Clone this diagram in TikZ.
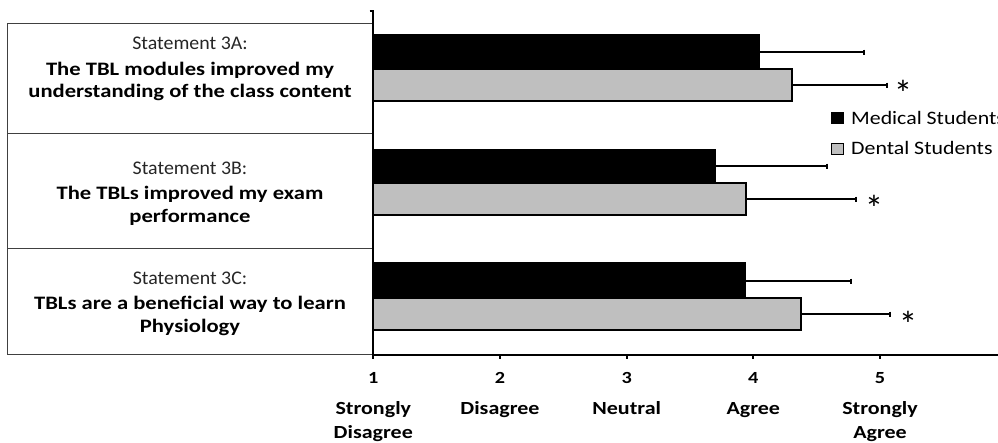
\documentclass[tikz,border=0pt]{standalone}
\usepackage{fontspec}
\setmainfont{Carlito}
\newfontfamily\stmtfont[FakeStretch=1.03]{Carlito}
\newfontfamily\widefont[FakeStretch=1.19]{Carlito}
\newfontfamily\legfont[FakeStretch=1.15]{Carlito}
\begin{document}
\begin{tikzpicture}[x=1pt,y=-1pt,
  boxline/.style={draw=black!75,line width=1pt},
  axisline/.style={draw=black,line width=1.8pt},
  medbar/.style={draw=black,line width=1.3pt,fill=black},
  dentbar/.style={draw=black,line width=1.3pt,fill=black!25},
  errbar/.style={draw=black,line width=1.1pt},
  stmt/.style={anchor=base,inner sep=0pt,font=\stmtfont\fontsize{19.3}{22}\selectfont,text=black!85},
  stmtb/.style={anchor=base,inner sep=0pt,font=\widefont\fontsize{19}{22}\selectfont\bfseries},
  ticklab/.style={anchor=base,inner sep=0pt,font=\widefont\fontsize{17}{18}\selectfont\bfseries},
  scalelab/.style={anchor=base,inner sep=0pt,font=\widefont\fontsize{18.5}{22}\selectfont\bfseries},
  legtext/.style={anchor=base west,inner sep=0pt,font=\legfont\fontsize{19}{20}\selectfont},
  star/.style={anchor=base,inner sep=0pt,font=\fontsize{37}{37}\selectfont}]
\useasboundingbox (0,0) rectangle (998,442);
% left statement box
\draw[boxline] (7.5,23.3) -- (373,23.3);
\draw[boxline] (7.5,23.3) -- (7.5,354.5) -- (373,354.5);
\draw[boxline] (7.5,133) -- (373,133);
\draw[boxline] (7.5,248) -- (373,248);
\node[stmt] (s3a) at (190,49.3) {Statement 3A:};
\node[stmtb] (t3a1) at (190,75) {The TBL modules improved my};
\node[stmtb] (t3a2) at (190,97.7) {understanding of the class content};
\node[stmt] (s3b) at (190,174.5) {Statement 3B:};
\node[stmtb] (t3b1) at (190,199) {The TBLs improved my exam};
\node[stmtb] (t3b2) at (190,222) {performance};
\node[stmt] (s3c) at (190,284.6) {Statement 3C:};
\node[stmtb] (t3c1) at (190,309) {TBLs are a beneficial way to learn};
\node[stmtb] (t3c2) at (190,332) {Physiology};
% bars
\draw[medbar] (373.3,35) rectangle (759,69);
\draw[dentbar] (373.3,69) rectangle (792,101);
\draw[medbar] (373.3,149.3) rectangle (715,183);
\draw[dentbar] (373.3,183) rectangle (746,215);
\draw[medbar] (373.3,263) rectangle (745,298);
\draw[dentbar] (373.3,298) rectangle (801,330);
% error bars
\foreach \xa/\xb/\yy in {759/864/52, 792/887/85, 715/827/166, 746/856/199, 745/851/281, 801/890/314}{
  \draw[errbar] (\xa,\yy) -- (\xb,\yy);
  \draw[errbar] (\xb,\yy-2.5) -- (\xb,\yy+2.5);
}
% asterisks
\node[star] (a1) at (903,106) {\smash{*}};
\node[star] (a2) at (874,221) {\smash{*}};
\node[star] (a3) at (908,337) {\smash{*}};
% axes
\draw[axisline] (369.5,11) -- (373.3,11) -- (373.3,355);
\draw[axisline] (373.3,355) -- (998,355);
\foreach \x in {373.3,500,626.7,753.3,880}{
  \draw[axisline] (\x,355) -- (\x,359);
}
\node[ticklab] (n1) at (373.3,383) {1};
\node[ticklab] (n2) at (500,383) {2};
\node[ticklab] (n3) at (626.7,383) {3};
\node[ticklab] (n4) at (753.3,383) {4};
\node[ticklab] (n5) at (880,383) {5};
\node[scalelab] (l1a) at (373.3,414) {Strongly};
\node[scalelab] (l1b) at (373.3,438) {Disagree};
\node[scalelab] (l2) at (500,414) {Disagree};
\node[scalelab] (l3) at (626.7,414) {Neutral};
\node[scalelab] (l4) at (753.3,414) {Agree};
\node[scalelab] (l5a) at (880,414) {Strongly};
\node[scalelab] (l5b) at (880,438) {Agree};
% legend
\draw[draw=black,line width=1pt,fill=black] (831.5,112.5) rectangle (843.5,123.5);
\node[legtext] (lm) at (851,124) {Medical Students};
\draw[draw=black,line width=1pt,fill=black!25] (831.5,143.5) rectangle (843.5,154.5);
\node[legtext] (ld) at (851,154.3) {Dental Students};
\end{tikzpicture}
\end{document}
